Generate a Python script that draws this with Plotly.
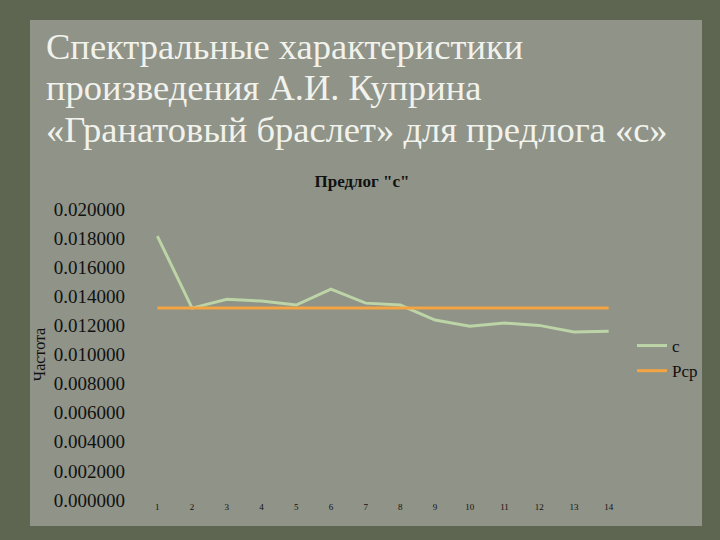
import plotly.graph_objects as go

categories = [str(i) for i in range(1, 15)]
c_values = [0.01814, 0.01319, 0.01380, 0.01367, 0.01340, 0.01450, 0.01353,
            0.01340, 0.01237, 0.01195, 0.01216, 0.01200, 0.01154, 0.01160]
rcp_values = [0.01320] * 14
y_ticks = [0.0, 0.002, 0.004, 0.006, 0.008, 0.010, 0.012, 0.014, 0.016, 0.018, 0.020]
y_tick_labels = ["%.6f" % v for v in y_ticks]
title_lines = ["Спектральные характеристики",
               "произведения А.И. Куприна",
               "«Гранатовый браслет» для предлога «с»"]

serif = "Liberation Serif, DejaVu Serif, serif"

L, R, T, B = 140, 94, 209, 40
W, H = 720, 540
pw, ph = W - L - R, H - T - B


def px(x):
    return (x - L) / pw


def py(y):
    return (H - B - y) / ph


fig = go.Figure()
fig.add_trace(go.Scatter(x=categories, y=c_values, mode="lines", name="с",
                         line=dict(color="#bcd4a6", width=3)))
fig.add_trace(go.Scatter(x=categories, y=rcp_values, mode="lines", name="Рср",
                         line=dict(color="#f4a443", width=3)))

annotations = []
for line, yc in zip(title_lines, [46, 88, 129]):
    annotations.append(dict(text=line, xref="paper", yref="paper", x=px(44), y=py(yc),
                            xanchor="left", yanchor="middle", align="left", showarrow=False,
                            font=dict(family=serif, size=36.5, color="#f2f2ec")))

fig.update_layout(
    width=W, height=H,
    margin=dict(l=L, r=R, t=T, b=B, autoexpand=False),
    paper_bgcolor="#5e6652",
    plot_bgcolor="rgba(0,0,0,0)",
    showlegend=True,
    legend=dict(x=px(632), y=py(328), xanchor="left", yanchor="top",
                font=dict(family=serif, size=17, color="#111111"),
                bgcolor="rgba(0,0,0,0)", itemwidth=30, tracegroupgap=2),
    title=dict(text="<b>Предлог \"с\"</b>", x=362 / W, xanchor="center",
               y=1 - 181 / H, yanchor="middle",
               font=dict(family=serif, size=17, color="#111111")),
    xaxis=dict(type="category", showgrid=False, zeroline=False, showline=False,
               automargin=False, ticks="",
               tickfont=dict(family=serif, size=9, color="#111111"),
               range=[-0.5, 13.5]),
    yaxis=dict(range=[0, 0.02], tickvals=y_ticks, ticktext=y_tick_labels,
               showgrid=False, zeroline=False, showline=False, ticks="",
               automargin=False, ticklabelstandoff=14,
               tickfont=dict(family=serif, size=19, color="#111111"),
               title=dict(text="Частота", standoff=4,
                          font=dict(family=serif, size=16, color="#111111"))),
    shapes=[dict(type="rect", xref="paper", yref="paper", layer="below",
                 x0=px(30), x1=px(702), y0=py(526), y1=py(20),
                 fillcolor="#8f9388", line=dict(width=0))],
    annotations=annotations,
)

fig.write_html("out.html", config={"displayModeBar": False},
               post_script="document.body.style.margin='0';document.body.style.overflow='hidden';")
